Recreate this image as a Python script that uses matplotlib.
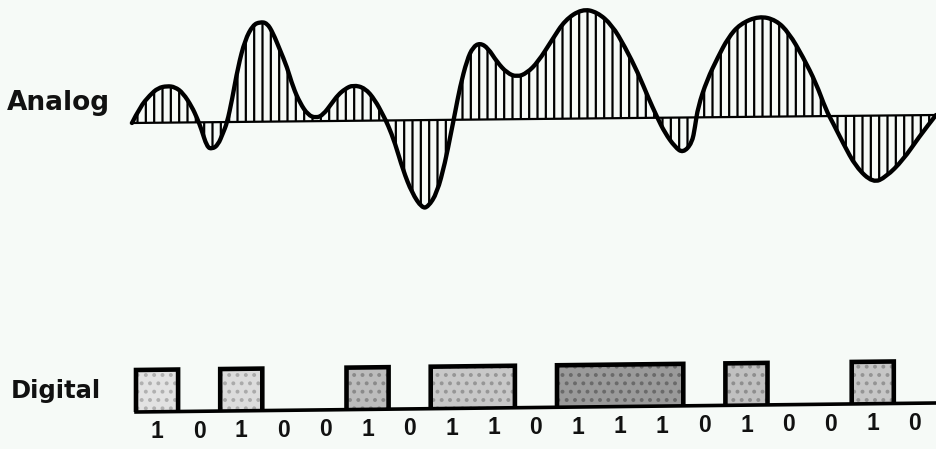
import numpy as np
import matplotlib
matplotlib.use('Agg')
import matplotlib.pyplot as plt
from matplotlib.patches import Polygon, PathPatch
from matplotlib.path import Path

# analog waveform (x, y in image pixels)
analog_x = [132, 140, 150, 158, 167, 175, 183, 192, 197, 201, 207, 212, 218, 223, 227,
            232, 238, 245, 253, 260, 267, 273, 280, 287, 293, 300, 308, 316, 323, 332,
            338, 345, 353, 365, 375, 383, 388, 395, 403, 412, 422, 428, 437, 445, 451,
            455, 460, 467, 473, 480, 488, 497, 507, 517, 527, 538, 552, 565, 582, 597,
            612, 625, 638, 648, 657, 665, 675, 683, 692, 695, 698, 707, 718, 728, 740,
            759, 776, 789, 803, 816, 826, 833, 843, 856, 873, 886, 903, 919, 936]
analog_y = [123, 107, 95, 88, 86, 87, 93, 107, 118, 128, 147, 149, 145, 133, 123,
            100, 67, 40, 25, 22, 23, 33, 50, 67, 87, 103, 115, 118, 115, 103,
            95, 89, 85, 88, 100, 115, 125, 143, 170, 193, 208, 207, 193, 163, 133,
            113, 87, 60, 47, 43, 48, 62, 73, 77, 73, 62, 40, 20, 9, 12,
            25, 47, 73, 97, 117, 133, 147, 153, 143, 127, 107, 80, 57, 38, 24,
            16, 20, 33, 57, 83, 110, 123, 143, 167, 183, 177, 160, 137, 115]

# digital bit stream
bits = [1, 0, 1, 0, 0, 1, 0, 1, 1, 0, 1, 1, 1, 0, 1, 0, 0, 1, 0]
# shade of the stippled fill in each box
box_grays = ['#e2e2e2', '#dcdcdc', '#bcbcbc', '#c8c8c8', '#9a9a9a', '#c0c0c0', '#c6c6c6']
dot_grays = ['#b0b0b0', '#aaaaaa', '#8a8a8a', '#969696', '#6a6a6a', '#8e8e8e', '#949494']

bg = '#f6faf7'

plt.rcParams['hatch.linewidth'] = 1.6

fig = plt.figure(figsize=(9.36, 4.49), dpi=100, facecolor=bg)
ax = fig.add_axes([0, 0, 1, 1])
ax.set_xlim(0, 936)
ax.set_ylim(449, 0)
ax.axis('off')
ax.set_facecolor(bg)


# the scan is tilted a little, baselines fall slightly to the right
def analog_base(x):
    return np.interp(x, [131, 936], [123, 115])


def digital_base(x):
    return np.interp(x, [136, 936], [412, 403])


# smooth path through the read points (quadratic bezier, points as controls)
pts = list(zip(analog_x, analog_y))
verts = [pts[0]]
codes = [Path.MOVETO]
for i in range(1, len(pts) - 1):
    mid = ((pts[i][0] + pts[i + 1][0]) / 2, (pts[i][1] + pts[i + 1][1]) / 2)
    verts += [pts[i], mid]
    codes += [Path.CURVE3, Path.CURVE3]
verts.append(pts[-1])
codes.append(Path.LINETO)

curve = Path(verts, codes)
fill_path = Path(verts + [(131, analog_base(131)), pts[0]],
                 codes + [Path.LINETO, Path.CLOSEPOLY])

ax.add_patch(PathPatch(fill_path, facecolor='none', edgecolor='black',
                       hatch='||', linewidth=0))
ax.plot([131, 936], [analog_base(131), analog_base(936)], color='black', lw=1.6)
ax.add_patch(PathPatch(curve, facecolor='none', edgecolor='black', lw=3.1,
                       joinstyle='round', capstyle='round'))

# digital signal
x0 = 136
cell = 42.1
h = 42
ax.plot([x0, 936], [digital_base(x0), digital_base(936)], color='black', lw=2.6)

runs = []
i = 0
while i < len(bits):
    if bits[i] == 1:
        j = i
        while j < len(bits) and bits[j] == 1:
            j += 1
        runs.append((i, j))
        i = j
    else:
        i += 1

for k, (a, b) in enumerate(runs):
    xa = x0 + a * cell
    xb = x0 + b * cell
    box = [(xa, digital_base(xa)), (xa, digital_base(xa) - h),
           (xb, digital_base(xb) - h), (xb, digital_base(xb))]
    # stippled fill
    ax.add_patch(Polygon(box, closed=True, facecolor=box_grays[k],
                         edgecolor=dot_grays[k], hatch='..', lw=0))
    ax.add_patch(Polygon(box, closed=False, facecolor='none',
                         edgecolor='black', lw=3.3, joinstyle='miter'))

for i, b in enumerate(bits):
    xc = x0 + (i + 0.5) * cell
    ax.text(xc, digital_base(xc) + 20, str(b), ha='center', va='center',
            fontsize=16.5, fontweight='bold', family='Liberation Sans', color='#111111')

ax.text(7, 110, 'Analog', ha='left', va='baseline', fontsize=19,
        fontweight='bold', family='DejaVu Sans', color='#111111')
ax.text(11, 398, 'Digital', ha='left', va='baseline', fontsize=17.5,
        fontweight='bold', family='DejaVu Sans', color='#111111')

fig.savefig('out.png', dpi=100, facecolor=bg)
